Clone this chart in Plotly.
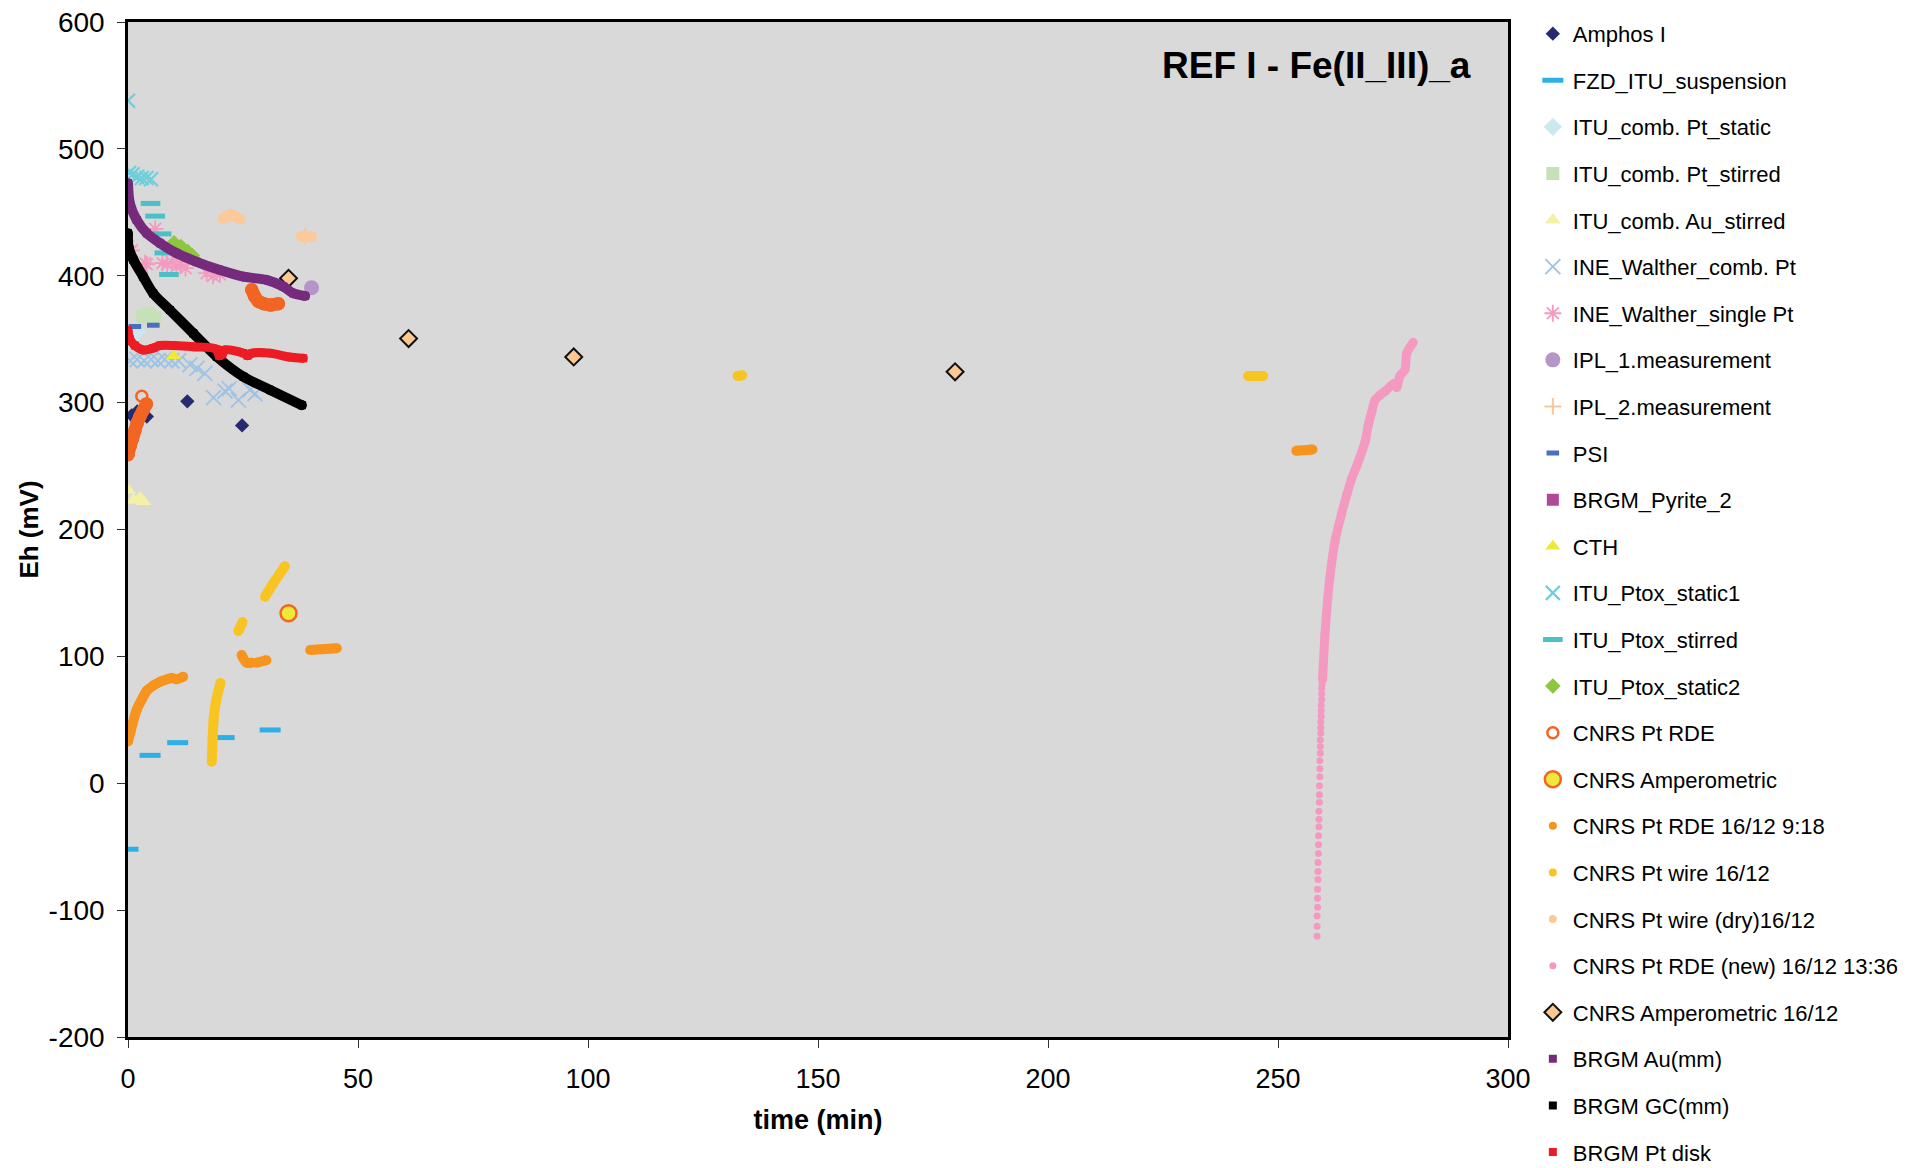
import plotly.graph_objects as go

# ---------------- data (time in min, Eh in mV) ----------------
amphos_t = [0.8, 2.0, 4.1, 12.9, 24.8]
amphos_eh = [290, 293, 289, 301, 282]

fzd_t = [0, 4.8, 10.8, 20.9, 30.9]
fzd_eh = [-52, 22, 32, 36, 42]

itu_pt_static_t = [0.0, 1.0, 2.0]
itu_pt_static_eh = [347, 352, 356]

itu_pt_stirred_t = [3.2, 4.5, 5.8]
itu_pt_stirred_eh = [368, 370, 367]

itu_au_stirred_t = [0.0, 1.2, 2.6, 3.3]
itu_au_stirred_eh = [231, 223, 225, 222]

ine_comb_t = [0.5, 2, 3.5, 5, 6.5, 8, 9.5, 11, 13.5, 15, 16.7, 18.6, 21.1, 22, 24, 26.5, 27.6]
ine_comb_eh = [333, 334, 333, 334, 333, 334, 333, 333, 330, 327, 323, 304, 309, 311, 302, 310, 307]

ine_single_t = [0.0, 0.8, 3.7, 4.1, 5.9, 7.5, 8.5, 9.5, 10.5, 11.5, 12.5, 17.1, 18.5, 20.0]
ine_single_eh = [423, 420, 410, 409, 437, 410, 409, 411, 407, 409, 406, 402, 400, 401]

ipl1_t = [39.9]
ipl1_eh = [390.5]

ipl2_t = [38.5]
ipl2_eh = [431]

psi_t = [1.5, 5.5]
psi_eh = [360, 361]

pyrite_t = [None]
pyrite_eh = [None]

cth_t = [9.9]
cth_eh = [337]

ptox_static1_t = [0.0, 0.2, 1.0, 2.0, 3.0, 4.0, 5.0]
ptox_static1_eh = [538, 481, 480, 478, 477, 477, 476]

ptox_stirred_t = [4.9, 5.9, 7.3, 7.9, 8.9]
ptox_stirred_eh = [457, 447, 433, 418, 401]

ptox_static2_t = [10, 11.5, 13, 14]
ptox_static2_eh = [426, 423, 419, 416]

cnrs_rde_t = [0, 0.5, 1, 1.5, 2, 2.6, 3.3, 4.0, None, 26.9, 27.5, 28.3, 29.5, 31, 32.7]
cnrs_rde_eh = [259, 266, 272, 278, 284, 289, 294, 299, None, 389, 384, 380, 378, 377, 378]
cnrs_rde_pt_t = [3.0]
cnrs_rde_pt_eh = [305]

cnrs_amp_t = [34.9]
cnrs_amp_eh = [134]

rde918_t = [0, 0.5, 1, 1.9, 3, 4.1, 5.5, 7, 8.5, 9.5, 10.5, 12, None,
            24.7, 25.8, 26.9, None, 28.0, 30.1, None, 39.6, 45.4, None, 254.0, 257.5]
rde918_eh = [33, 40, 47, 58, 66, 73, 77, 80, 82, 83, 82, 84, None,
             101, 95, 95, None, 95, 97, None, 105, 106.4, None, 262, 263]

wire_t = [18.2, 18.4, 18.6, 19.1, 20.1, None, 24.0, 24.9, None, 29.8, 31.5, 34.1,
          None, 132.5, 133.5, None, 243.5, 246.8]
wire_eh = [17, 35, 50, 64, 79, None, 120, 127, None, 147, 157, 171,
           None, 321, 321.5, None, 321, 321]

wiredry_t = [20.7, 22.2, 24.3, None, 37.7, 39.9]
wiredry_eh = [445, 448, 444.5, None, 430.8, 430.8]

rdenew_dots_t = [258.5, 258.5, 258.5, 258.6, 258.6, 258.6, 258.7, 258.7, 258.7, 258.8, 258.8,
                 258.8, 258.9, 258.9, 258.9, 259.0, 259.0, 259.0, 259.1, 259.1, 259.1, 259.2,
                 259.2, 259.2, 259.3, 259.3, 259.3, 259.4, 259.4, 259.4, 259.5, 259.5, 259.5,
                 259.6, 259.6]
rdenew_dots_eh = [-120.5, -112.8, -104.7, -97.7, -90.6, -83.6, -75.9, -69.5, -62.5, -55.4, -48.4,
                  -41.4, -34.3, -28.4, -22.0, -15.0, -9.0, -2.0, 5.1, 11.4, 17.7, 23.7,
                  29.0, 34.3, 39.6, 43.8, 48.4, 52.9, 57.2, 61.4, 66.0, 70.5, 74.8,
                  78.3, 81.8]
rdenew_curve_t = [259.7, 260.2, 260.8, 261.3, 262.4, 263.8, 265.0, 266.0, 267.2, 268.2, 269.0,
                  269.6, 270.4, 271.1, 272.2, 273.3, 274.3, 275.2, 275.8, 276.5, 277.6, 278.0, 279.4]
rdenew_curve_eh = [82, 117, 145, 163, 191, 212, 228, 240, 251, 261, 270,
                   282, 293, 302, 306, 309, 312.4, 315, 312, 321, 326, 339, 347.5]

amp1612_t = [34.9, 61.0, 96.9, 179.8]
amp1612_eh = [398, 350.5, 336, 324.3]

au_t = [0, 0.4, 1.9, 4.1, 7, 10.6, 14.9, 20, 25.1, 30.1, 33.8, 35.9, 38.5]
au_eh = [473, 457, 444, 433.5, 425.6, 417.7, 411, 404.5, 399.3, 396.7, 391.4, 386.2, 384]

gc_t = [0, 0.1, 1.2, 3.3, 5.5, 9.1, 14.2, 19.3, 25.1, 30.9, 37.8]
gc_eh = [433.5, 423, 412.4, 399.3, 386, 373, 354.6, 336.2, 320.4, 310, 298]

ptdisk_t = [0, 0.4, 1.5, 3.3, 5.5, 7, 10, 14.2, 19.3, 19.8, 20.5, 21, 25.1, 26, 27, 30.9, 35, 38.1]
ptdisk_eh = [357, 350, 345, 341.5, 343, 345, 345, 344, 342, 337, 338, 341.5, 339, 337, 339, 339, 336, 335]

x_ticks = [0, 50, 100, 150, 200, 250, 300]
y_ticks = [-200, -100, 0, 100, 200, 300, 400, 500, 600]

FONT = "Liberation Sans, Arial, sans-serif"

fig = go.Figure()


def pts(name, t, eh, marker):
    fig.add_trace(go.Scatter(x=t, y=eh, mode="markers", name=name, legendgroup=name,
                             marker=marker, cliponaxis=True))


def thick(name, t, eh, color, width):
    fig.add_trace(go.Scatter(x=t, y=eh, mode="lines+markers", legendgroup=name, showlegend=False,
                             line=dict(color=color, width=width, shape="spline", smoothing=0.8),
                             marker=dict(size=width, color=color, symbol="circle")))


def dash(color, size, lw):
    return dict(symbol="line-ew", size=size, color=color, line=dict(color=color, width=lw))


pts("Amphos I", amphos_t, amphos_eh, dict(symbol="diamond", size=11, color="#262a6e"))
pts("FZD_ITU_suspension", fzd_t, fzd_eh, dash("#2cb0e6", 15, 5))
pts("ITU_comb. Pt_static", itu_pt_static_t, itu_pt_static_eh, dict(symbol="diamond", size=14, color="#cbe8f0"))
pts("ITU_comb. Pt_stirred", itu_pt_stirred_t, itu_pt_stirred_eh, dict(symbol="square", size=13, color="#c6e1b6"))
pts("ITU_comb. Au_stirred", itu_au_stirred_t, itu_au_stirred_eh, dict(symbol="triangle-up", size=14, color="#f4f1a4"))
pts("INE_Walther_comb. Pt", ine_comb_t, ine_comb_eh,
    dict(symbol="x-thin", size=15, color="#9dc3e6", line=dict(color="#9dc3e6", width=1.8)))
pts("INE_Walther_single Pt", ine_single_t, ine_single_eh,
    dict(symbol="asterisk", size=14, color="#f49ac1", line=dict(color="#f49ac1", width=1.8)))
pts("IPL_1.measurement", ipl1_t, ipl1_eh, dict(symbol="circle", size=15, color="#b596c9"))
pts("IPL_2.measurement", ipl2_t, ipl2_eh,
    dict(symbol="cross-thin", size=12, color="#fbc59a", line=dict(color="#fbc59a", width=2)))
pts("PSI", psi_t, psi_eh, dash("#4a6fc0", 9, 5))
pts("BRGM_Pyrite_2", pyrite_t, pyrite_eh, dict(symbol="square", size=12, color="#b0489a"))
pts("CTH", cth_t, cth_eh, dict(symbol="triangle-up", size=13, color="#eee836"))
pts("ITU_Ptox_static1", ptox_static1_t, ptox_static1_eh,
    dict(symbol="x-thin", size=14, color="#6dcfdc", line=dict(color="#6dcfdc", width=2.2)))
pts("ITU_Ptox_stirred", ptox_stirred_t, ptox_stirred_eh, dash("#4bc0c6", 14, 5))
pts("ITU_Ptox_static2", ptox_static2_t, ptox_static2_eh, dict(symbol="diamond", size=12, color="#8dc63f"))

# CNRS Pt RDE (dense open circles)
thick("CNRS Pt RDE", cnrs_rde_t, cnrs_rde_eh, "#f26522", 13)
fig.add_trace(go.Scatter(x=cnrs_rde_pt_t + cnrs_rde_t, y=cnrs_rde_pt_eh + cnrs_rde_eh, mode="markers",
                         name="CNRS Pt RDE", legendgroup="CNRS Pt RDE",
                         marker=dict(symbol="circle-open", size=11, color="#f26522",
                                     line=dict(color="#f26522", width=2.5))))
pts("CNRS Amperometric", cnrs_amp_t, cnrs_amp_eh,
    dict(symbol="circle", size=16, color="#eee83a", line=dict(color="#f26522", width=2.5)))

pts("CNRS Pt RDE 16/12 9:18", rde918_t, rde918_eh, dict(symbol="circle", size=8, color="#f7941d"))
thick("CNRS Pt RDE 16/12 9:18", rde918_t, rde918_eh, "#f7941d", 10)

pts("CNRS Pt wire 16/12", wire_t, wire_eh, dict(symbol="circle", size=8, color="#f8c421"))
thick("CNRS Pt wire 16/12", wire_t, wire_eh, "#f8c421", 10)

pts("CNRS Pt wire (dry)16/12", wiredry_t, wiredry_eh, dict(symbol="circle", size=8, color="#fbc99a"))
thick("CNRS Pt wire (dry)16/12", wiredry_t, wiredry_eh, "#fbc99a", 11)

pts("CNRS Pt RDE (new) 16/12 13:36", rdenew_dots_t + rdenew_curve_t, rdenew_dots_eh + rdenew_curve_eh,
    dict(symbol="circle", size=7, color="#f49ac1"))
thick("CNRS Pt RDE (new) 16/12 13:36", rdenew_curve_t, rdenew_curve_eh, "#f49ac1", 9)

pts("CNRS Amperometric 16/12", amp1612_t, amp1612_eh,
    dict(symbol="diamond", size=13, color="#fbc891", line=dict(color="#111111", width=2)))

pts("BRGM Au(mm)", au_t, au_eh, dict(symbol="square", size=8, color="#762a7b"))
thick("BRGM Au(mm)", au_t, au_eh, "#762a7b", 10)

pts("BRGM GC(mm)", gc_t, gc_eh, dict(symbol="square", size=8, color="#000000"))
thick("BRGM GC(mm)", gc_t, gc_eh, "#000000", 10)

pts("BRGM Pt disk", ptdisk_t, ptdisk_eh, dict(symbol="square", size=8, color="#ed1c24"))
thick("BRGM Pt disk", ptdisk_t, ptdisk_eh, "#ed1c24", 9)

fig.add_annotation(text="<b>REF I - Fe(II_III)_a</b>", xref="paper", yref="paper",
                   x=0.9745, y=0.9576, xanchor="right", yanchor="middle", showarrow=False,
                   font=dict(family=FONT, size=37, color="#000000"))

# the page body adds an 8 px offset, so margins are reduced by 8 on the left/top
fig.update_layout(
    width=1930, height=1168,
    margin=dict(l=120, r=430, t=14, b=139, autoexpand=False),
    paper_bgcolor="#ffffff",
    plot_bgcolor="#d9d9d9",
    font=dict(family=FONT, color="#000000"),
    showlegend=True,
    legend=dict(x=1.018, y=1.009, xanchor="left", yanchor="top",
                font=dict(family=FONT, size=22, color="#000000"),
                traceorder="grouped", tracegroupgap=15, bgcolor="rgba(0,0,0,0)",
                itemwidth=30, maxheight=1500),
    xaxis=dict(range=[0, 300], tickvals=x_ticks, ticktext=[str(v) for v in x_ticks],
               showgrid=False, zeroline=False, showline=True, linecolor="#000000", linewidth=2.5,
               mirror=True, ticks="outside", ticklen=8, tickcolor="#333333", tickwidth=1,
               tickfont=dict(family=FONT, size=27), ticklabelstandoff=8, automargin=False,
               ticklabeloverflow="allow",
               title=dict(text="<b>time (min)</b>", font=dict(family=FONT, size=27), standoff=17)),
    yaxis=dict(range=[-200, 600], tickvals=y_ticks, ticktext=[str(v) for v in y_ticks],
               showgrid=False, zeroline=False, showline=True, linecolor="#000000", linewidth=2.5,
               mirror=True, ticks="outside", ticklen=8, tickcolor="#333333", tickwidth=1,
               tickfont=dict(family=FONT, size=28), ticklabelstandoff=7, automargin=False,
               ticklabeloverflow="allow",
               title=dict(text="<b>Eh (mV)</b>", font=dict(family=FONT, size=26), standoff=3)),
)

fig.write_html("out.html")
